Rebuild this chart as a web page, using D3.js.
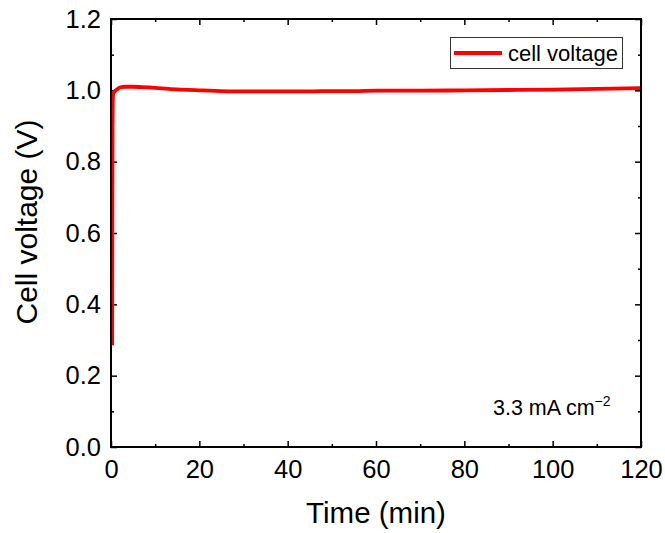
<!DOCTYPE html>
<html><head><meta charset="utf-8">
<script src="https://cdn.jsdelivr.net/npm/d3@7"></script>
<style>body{margin:0;background:#fff}svg{display:block}text{font-family:"Liberation Sans",Arial,sans-serif;fill:#000}</style>
</head><body>
<script>
const timeMin = [0.25,0.3,0.35,0.4,0.5,0.7,1.0,1.5,2.0,2.5,3,4,5,7,10,13,16,20,25,30,35,40,45,50,55,60,70,80,90,100,110,120];
const voltage = [0.285,0.6,0.9,0.97,0.99,0.995,0.999,1.004,1.008,1.009,1.010,1.010,1.010,1.009,1.007,1.004,1.002,1.000,0.998,0.997,0.997,0.997,0.997,0.998,0.998,0.999,0.999,1.000,1.001,1.002,1.004,1.006];
const xMajor = [0,20,40,60,80,100,120];
const xMinor = [10,30,50,70,90,110];
const yMajor = [0.0,0.2,0.4,0.6,0.8,1.0,1.2];
const yMinor = [0.1,0.3,0.5,0.7,0.9,1.1];
const seriesName = "cell voltage";

const W=665,H=533,m={l:111,t:19,r:24,b:86};
const iw=W-m.l-m.r, ih=H-m.t-m.b;
const svg=d3.select("body").append("svg").attr("width",W).attr("height",H);
const g=svg.append("g").attr("transform",`translate(${m.l},${m.t})`);
const x=d3.scaleLinear().domain([0,120]).range([0,iw]);
const y=d3.scaleLinear().domain([0,1.2]).range([ih,0]);

function style(sel,showText){
  sel.selectAll("path.domain").remove();
  sel.selectAll(".tick line").attr("stroke","#000").attr("stroke-width",1.5);
  if(!showText) sel.selectAll(".tick text").remove();
  else sel.selectAll(".tick text").style("font-size","25.5px").attr("fill","#000");
}
g.append("g").attr("transform",`translate(0,${ih})`).call(d3.axisBottom(x).tickValues(xMajor).tickSize(-6).tickPadding(13).tickFormat(d3.format("d"))).call(s=>style(s,true));
g.append("g").attr("transform",`translate(0,${ih})`).call(d3.axisBottom(x).tickValues(xMinor).tickSize(-3).tickFormat("")).call(s=>style(s,false));
g.append("g").call(d3.axisTop(x).tickValues(xMajor).tickSize(-6).tickFormat("")).call(s=>style(s,false));
g.append("g").call(d3.axisTop(x).tickValues(xMinor).tickSize(-3).tickFormat("")).call(s=>style(s,false));
g.append("g").call(d3.axisLeft(y).tickValues(yMajor).tickSize(-6).tickPadding(10).tickFormat(d3.format(".1f"))).call(s=>style(s,true));
g.append("g").call(d3.axisLeft(y).tickValues(yMinor).tickSize(-3).tickFormat("")).call(s=>style(s,false));
g.append("g").attr("transform",`translate(${iw},0)`).call(d3.axisRight(y).tickValues(yMajor).tickSize(-6).tickFormat("")).call(s=>style(s,false));
g.append("g").attr("transform",`translate(${iw},0)`).call(d3.axisRight(y).tickValues(yMinor).tickSize(-3).tickFormat("")).call(s=>style(s,false));

const data=timeMin.map((t,i)=>({t,v:voltage[i]}));
g.append("path").datum(data).attr("fill","none").attr("stroke","#ff0000").attr("stroke-width",3.8)
 .attr("stroke-linejoin","round")
 .attr("d",d3.line().x(d=>x(d.t)).y(d=>y(d.v)).curve(d3.curveMonotoneX));

g.append("rect").attr("x",0).attr("y",0).attr("width",iw).attr("height",ih).attr("fill","none").attr("stroke","#000").attr("stroke-width",2);

const lg=svg.append("g");
lg.append("rect").attr("x",450.5).attr("y",37.5).attr("width",172).attr("height",31).attr("fill","#fff").attr("stroke","#333").attr("stroke-width",1);
lg.append("line").attr("x1",454).attr("x2",502).attr("y1",53).attr("y2",53).attr("stroke","#ff0000").attr("stroke-width",3.8);
lg.append("text").attr("x",508).attr("y",60.5).style("font-size","22px").text(seriesName);

const an=svg.append("text").attr("x",493).attr("y",415).style("font-size","21.5px");
an.append("tspan").text("3.3 mA cm");
an.append("tspan").attr("dy",-9).style("font-size","14px").text("\u22122");

svg.append("text").attr("x",m.l+iw/2).attr("y",523).attr("text-anchor","middle").style("font-size","29.5px").text("Time (min)");
svg.append("text").attr("transform","translate(37,222) rotate(-90)").attr("text-anchor","middle").style("font-size","30px").text("Cell voltage (V)");
</script>
</body></html>
